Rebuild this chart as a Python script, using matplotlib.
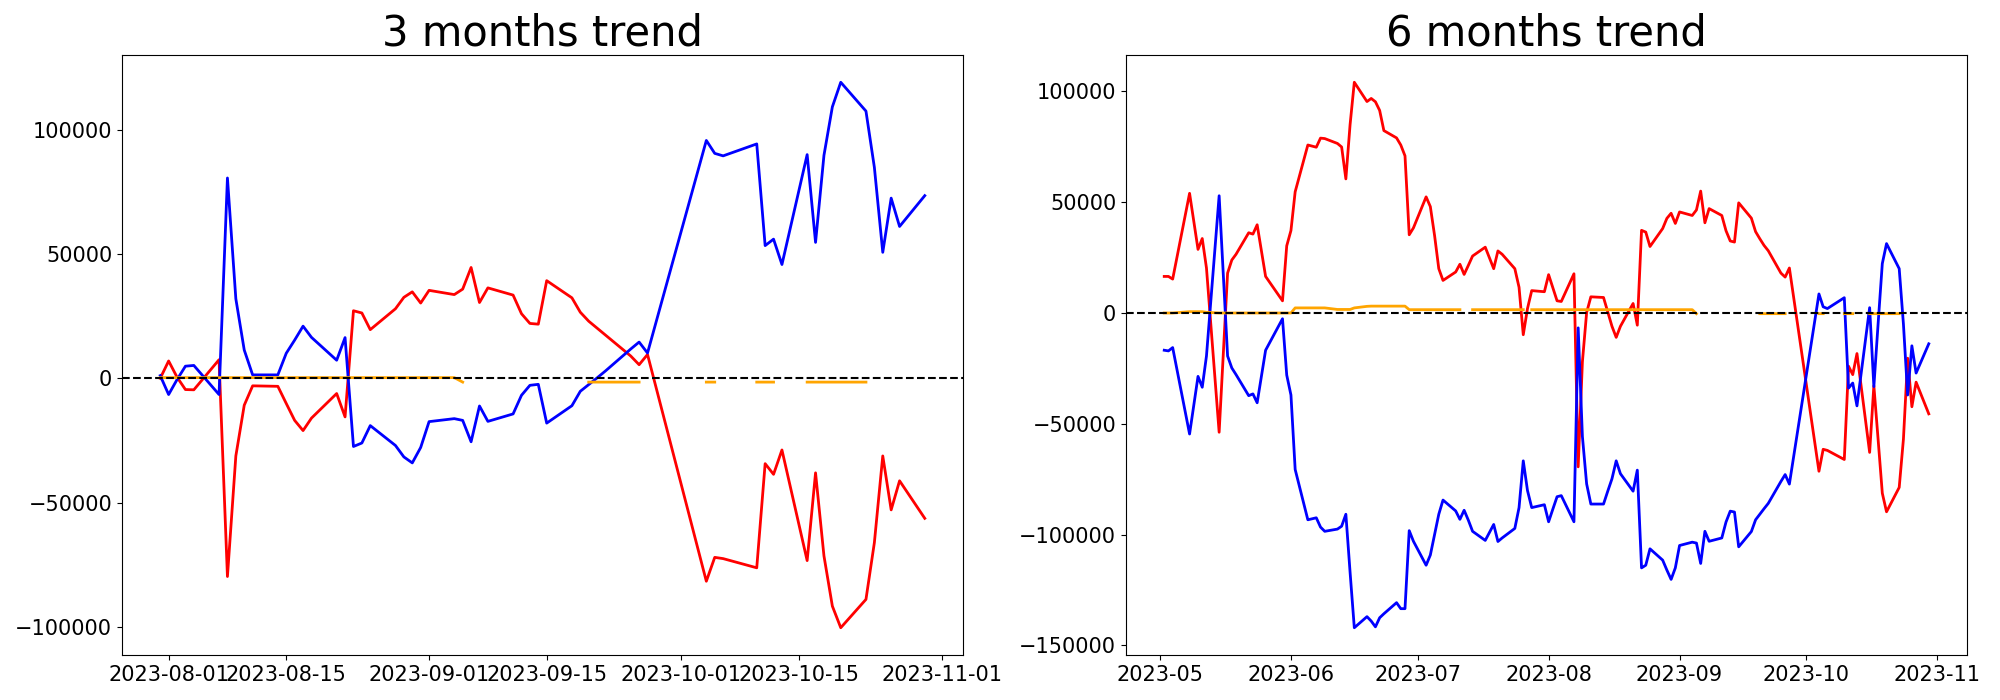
import numpy as np
import pandas as pd
import matplotlib
matplotlib.use("Agg")
import matplotlib.pyplot as plt

nan = np.nan

# ---------------- 3 months data ----------------
dates_3m = ["2023-07-31", "2023-08-01", "2023-08-02", "2023-08-03", "2023-08-04",
            "2023-08-07", "2023-08-08", "2023-08-09", "2023-08-10", "2023-08-11",
            "2023-08-14", "2023-08-15", "2023-08-16", "2023-08-17", "2023-08-18",
            "2023-08-21", "2023-08-22", "2023-08-23", "2023-08-24", "2023-08-25",
            "2023-08-28", "2023-08-29", "2023-08-30", "2023-08-31", "2023-09-01",
            "2023-09-04", "2023-09-05", "2023-09-06", "2023-09-07", "2023-09-08",
            "2023-09-11", "2023-09-12", "2023-09-13", "2023-09-14", "2023-09-15",
            "2023-09-18", "2023-09-19", "2023-09-20", "2023-09-21", "2023-09-22",
            "2023-09-25", "2023-09-26", "2023-09-27", "2023-10-04", "2023-10-05",
            "2023-10-06", "2023-10-10", "2023-10-11", "2023-10-12", "2023-10-13",
            "2023-10-16", "2023-10-17", "2023-10-18", "2023-10-19", "2023-10-20",
            "2023-10-23", "2023-10-24", "2023-10-25", "2023-10-26", "2023-10-27",
            "2023-10-30"]

blue_3m = [1100, -6500, -500, 4900, 5200, -6500, 80600, 32000, 11400, 1400,
           1400, 10100, 15400, 21000, 16500, 7300, 16400, -27400, -26000, -19000,
           -27000, -31600, -34000, -27800, -17400, -16200, -16900, -25500, -11100, -17300,
           -14300, -6800, -2800, -2400, -18000, -11000, -5200, -2500, 200, 3000,
           11800, 14600, 10200, 95700, 90500, 89500, 94300, 53400, 56000, 45800,
           90000, 54700, 89700, 109200, 119100, 107500, 84900, 50700, 72500, 61100,
           73500]

red_3m = [0, 7000, 500, -4500, -4600, 7500, -79700, -31200, -10800, -3000,
          -3200, -10100, -16900, -21000, -16000, -6100, -15500, 27200, 26300, 19600,
          28000, 32600, 34800, 30300, 35400, 33700, 35900, 44600, 30500, 36400,
          33500, 26000, 22100, 21800, 39300, 32400, 26600, 23000, 20200, 17400,
          9000, 5500, 9600, -81600, -72000, -72500, -76200, -34300, -38600, -28800,
          -73300, -38000, -71400, -91600, -100300, -88900, -66100, -31200, -52900, -41200,
          -56300]

orange_3m = [300, 300, 300, 300, 300, 300, 300, 300, 300, 300,
             300, 300, 300, 300, 300, 300, 300, 300, 300, 300,
             300, 300, 300, 300, 300, 300, -1500, nan, nan, nan,
             nan, nan, nan, nan, nan, nan, nan, -1500, -1500, -1500,
             -1500, -1500, nan, -1500, -1500, nan, -1500, -1500, -1500, nan,
             -1500, -1500, -1500, -1500, -1500, -1500, nan, nan, nan, nan,
             nan]

# ---------------- 6 months data ----------------
dates_6m = ["2023-05-02", "2023-05-03", "2023-05-04", "2023-05-08", "2023-05-10",
            "2023-05-11", "2023-05-12", "2023-05-15", "2023-05-17", "2023-05-18",
            "2023-05-19", "2023-05-22", "2023-05-23", "2023-05-24", "2023-05-26",
            "2023-05-30", "2023-05-31", "2023-06-01", "2023-06-02", "2023-06-05",
            "2023-06-07", "2023-06-08", "2023-06-09", "2023-06-12", "2023-06-13",
            "2023-06-14", "2023-06-15", "2023-06-16", "2023-06-19", "2023-06-20",
            "2023-06-21", "2023-06-22", "2023-06-23", "2023-06-26", "2023-06-27",
            "2023-06-28", "2023-06-29", "2023-06-30", "2023-07-03", "2023-07-04",
            "2023-07-05", "2023-07-06", "2023-07-07", "2023-07-10", "2023-07-11",
            "2023-07-12", "2023-07-13", "2023-07-14", "2023-07-17", "2023-07-19",
            "2023-07-20", "2023-07-21", "2023-07-24", "2023-07-25", "2023-07-26",
            "2023-07-27", "2023-07-28", "2023-07-31", "2023-08-01", "2023-08-02",
            "2023-08-03", "2023-08-04", "2023-08-07", "2023-08-08", "2023-08-09",
            "2023-08-10", "2023-08-11", "2023-08-14", "2023-08-15", "2023-08-16",
            "2023-08-17", "2023-08-18", "2023-08-21", "2023-08-22", "2023-08-23",
            "2023-08-24", "2023-08-25", "2023-08-28", "2023-08-29", "2023-08-30",
            "2023-08-31", "2023-09-01", "2023-09-04", "2023-09-05", "2023-09-06",
            "2023-09-07", "2023-09-08", "2023-09-11", "2023-09-12", "2023-09-13",
            "2023-09-14", "2023-09-15", "2023-09-18", "2023-09-19", "2023-09-20",
            "2023-09-21", "2023-09-22", "2023-09-25", "2023-09-26", "2023-09-27",
            "2023-10-04", "2023-10-05", "2023-10-06", "2023-10-10", "2023-10-11",
            "2023-10-12", "2023-10-13", "2023-10-16", "2023-10-17", "2023-10-18",
            "2023-10-19", "2023-10-20", "2023-10-23", "2023-10-24", "2023-10-25",
            "2023-10-26", "2023-10-27", "2023-10-30"]

blue_6m = [-16800, -17100, -15600, -54600, -28600, -33500, -19400, 52900, -19400, -24800,
           -27800, -37300, -36500, -40500, -16800, -2600, -28000, -37000, -70600, -93300,
           -92400, -96600, -98500, -97500, -96200, -90800, -117000, -142000, -137000, -139000,
           -141600, -137500, -135700, -130700, -133400, -133400, -98200, -103000, -113800, -109200,
           -100000, -90800, -84400, -89300, -93100, -89000, -93500, -98500, -102600, -95400,
           -103100, -101500, -97200, -87800, -66700, -80100, -87800, -86500, -94200, -88500,
           -82900, -82400, -94200, -6700, -55700, -77100, -86200, -86200, -80400, -74800,
           -66700, -72500, -80400, -70900, -115000, -113800, -106400, -111500, -116000, -120200,
           -115000, -104900, -103400, -103800, -113000, -98500, -103000, -101500, -94300, -89400,
           -89800, -105500, -98600, -93300, -90800, -88300, -85900, -76000, -72900, -77200,
           8600, 2800, 2000, 6900, -33900, -31600, -41900, 2400, -33200, -5000,
           22300, 31300, 20000, -5000, -37000, -14800, -27100, -13900]

red_6m = [16500, 16500, 15300, 54000, 28700, 33600, 20300, -53800, 18000, 23900,
          26500, 36200, 35600, 39800, 16500, 5500, 30300, 37200, 54700, 75800,
          74800, 78900, 78700, 76500, 74900, 60500, 85000, 104100, 95400, 96800,
          95300, 91400, 82300, 79000, 75800, 70900, 35300, 38400, 52400, 48000,
          35000, 20000, 14700, 18500, 22000, 17400, 21500, 25700, 29700, 20000,
          28000, 26500, 20000, 11600, -9800, 2000, 10100, 9600, 17300, 11400,
          5500, 5200, 17700, -69400, -22000, 200, 7300, 7000, 500, -6000,
          -11000, -6000, 4300, -5500, 37300, 36500, 30000, 38100, 42700, 45000,
          40400, 45600, 44000, 46500, 55000, 40700, 47100, 44000, 37100, 32500,
          32000, 49700, 42800, 36700, 33500, 30500, 28100, 18000, 16200, 20300,
          -71400, -61500, -62000, -66100, -24000, -27800, -18300, -62900, -32800, -56900,
          -81300, -89700, -78700, -56900, -20400, -42300, -31200, -45500]

orange_6m = [0, 0, 0, 600, 600, 600, 300, 0, 0, 0,
             0, 0, 0, 0, 0, 0, 0, 0, 2300, 2300,
             2300, 2300, 2300, 1600, 1600, 1600, 1600, 2300, 3000, 3100,
             3100, 3100, 3100, 3100, 3100, 3100, 1500, 1500, 1500, 1500,
             1500, 1500, 1500, 1500, 1500, nan, nan, 1500, 1500, 1500,
             1500, 1500, 1500, 1500, 1500, nan, 1500, 1500, 1500, 1500,
             1500, 1500, 1500, 1500, 1500, 1500, 1500, 1500, 1500, 1500,
             1500, 1500, 1500, 1500, 1500, 1500, 1500, 1500, 1500, 1500,
             1500, 1500, 1500, -300, nan, nan, nan, nan, nan, nan,
             nan, nan, nan, nan, -300, -300, -300, -300, -300, nan,
             -300, -300, nan, -300, -300, -300, nan, -300, -300, -300,
             -300, -300, -300, nan, nan, nan, nan, nan]

titles = ["3 months trend", "6 months trend"]

fig = plt.figure(figsize=(20, 7), dpi=100)
W, H = 2000.0, 700.0
ax1 = fig.add_axes([122 / W, 45 / H, 841 / W, 600 / H])
ax2 = fig.add_axes([1126 / W, 45 / H, 841 / W, 600 / H])

panels = [
    (ax1, dates_3m, red_3m, blue_3m, orange_3m, titles[0]),
    (ax2, dates_6m, red_6m, blue_6m, orange_6m, titles[1]),
]

for ax, d, r, b, o, t in panels:
    x = pd.to_datetime(d)
    ax.plot(x, r, color="red", linewidth=2)
    ax.plot(x, b, color="blue", linewidth=2)
    ax.plot(x, o, color="orange", linewidth=2)
    ax.axhline(0, color="black", linestyle="--", linewidth=1.5)
    ax.set_title(t, fontsize=30)
    ax.tick_params(axis="both", labelsize=15)

fig.savefig("out.png", dpi=100)
